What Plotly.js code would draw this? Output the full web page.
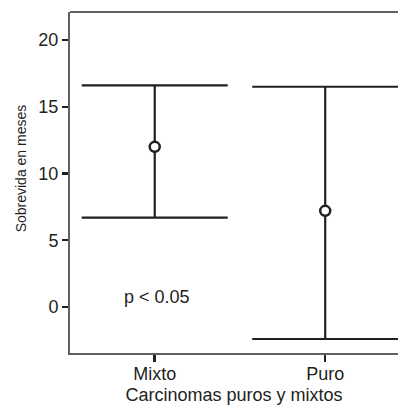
<!DOCTYPE html>
<html><head><meta charset="utf-8">
<script src="https://cdn.plot.ly/plotly-3.0.1.min.js"></script>
<style>html,body{margin:0;padding:0;background:#fff}#chart{width:398px;height:410px}</style>
</head><body><div id="chart"></div>
<script>
const categories = ["Mixto", "Puro"];
const means = [12.0, 7.2];
const upper = [16.6, 16.5];
const lower = [6.7, -2.4];
const yTicks = [0, 5, 10, 15, 20];
const pText = "p < 0.05";
const yTitle = "Sobrevida en meses";
const xTitle = "Carcinomas puros y mixtos";

const trace = {
  x: [0, 1],
  y: means,
  type: 'scatter',
  mode: 'markers',
  marker: {symbol: 'circle', size: 10, color: '#ffffff', line: {width: 2.5, color: '#231f20'}},
  error_y: {
    type: 'data', symmetric: false,
    array: upper.map((u, i) => u - means[i]),
    arrayminus: means.map((m, i) => m - lower[i]),
    color: '#231f20', thickness: 2.2, width: 73
  },
  showlegend: false,
  hoverinfo: 'none'
};
const fam = 'Liberation Sans, Arial, sans-serif';
const ink = '#231f20';
const layout = {
  width: 398, height: 410,
  margin: {l: 70, r: 0, t: 12, b: 57},
  paper_bgcolor: '#fff', plot_bgcolor: '#fff',
  font: {family: fam, color: ink},
  xaxis: {
    range: [-0.497, 1.427],
    tickvals: [0, 1], ticktext: categories,
    showgrid: false, zeroline: false,
    showline: true, linecolor: '#5b6166', linewidth: 2,
    ticks: 'outside', ticklen: 7, tickwidth: 2.5, tickcolor: ink,
    ticklabelstandoff: -4,
    tickfont: {size: 18, family: fam, color: ink},
    title: {text: xTitle, font: {size: 18, family: fam, color: ink}, standoff: 6}
  },
  yaxis: {
    range: [-3.45, 22.1],
    tickvals: yTicks,
    showgrid: false, zeroline: false,
    showline: true, linecolor: '#5b6166', linewidth: 2,
    ticks: 'outside', ticklen: 6, tickwidth: 2.5, tickcolor: ink,
    tickfont: {size: 18, family: fam, color: ink}
  },
  shapes: [{type: 'line', xref: 'paper', yref: 'paper', x0: 0, x1: 1, y0: 1, y1: 1, line: {color: '#5b6166', width: 2}}],
  annotations: [
    {x: 0, y: 0.75, xref: 'x', yref: 'y', xshift: 2, text: pText, showarrow: false,
     font: {size: 18, family: fam, color: ink}},
    {x: 0, y: 0.54, xref: 'paper', yref: 'paper', xshift: -49.5, textangle: -90, text: yTitle, showarrow: false,
     xanchor: 'center', yanchor: 'middle', font: {size: 14, family: fam, color: ink}}
  ]
};
Plotly.newPlot('chart', [trace], layout, {displayModeBar: false, staticPlot: true});
</script>
</body></html>
